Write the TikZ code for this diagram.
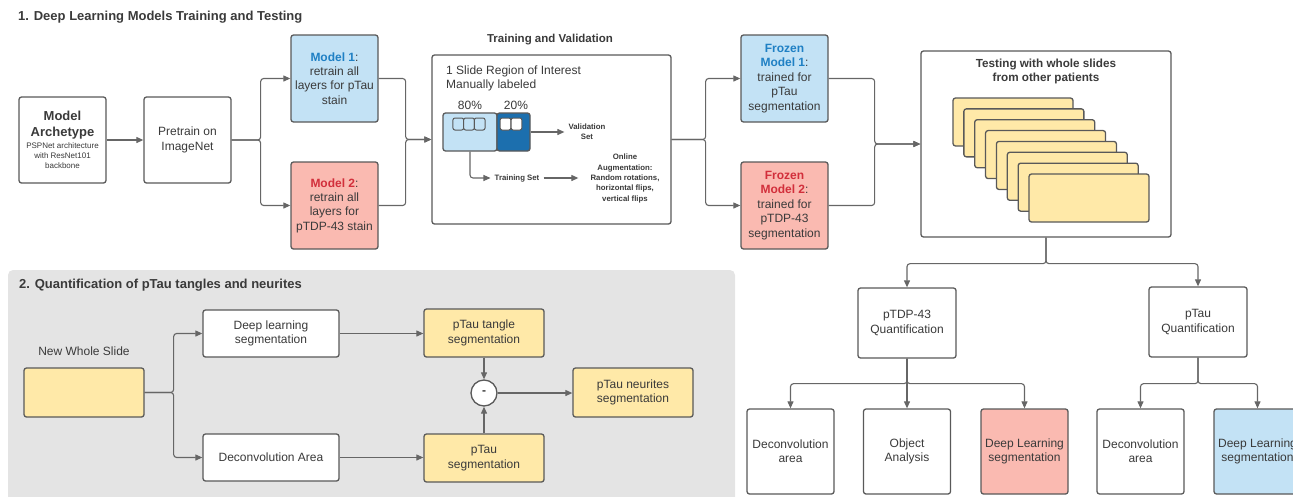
\documentclass[tikz,border=0pt]{standalone}
\usepackage{fontspec}
\setmainfont{Liberation Sans}
\usetikzlibrary{arrows.meta}
\definecolor{linegray}{HTML}{666666}
\definecolor{boxgray}{HTML}{595959}
\definecolor{txtgray}{HTML}{3A3A3A}
\definecolor{lblue}{HTML}{C3E2F5}
\definecolor{dblue}{HTML}{1C6FAE}
\definecolor{lred}{HTML}{FABAB1}
\definecolor{lyellow}{HTML}{FFE9A8}
\definecolor{bluetxt}{HTML}{1F80C4}
\definecolor{redtxt}{HTML}{D22F3B}
\definecolor{panel}{HTML}{E4E4E4}
\newcommand{\archbig}{\fontsize{13}{15.5}\selectfont\bfseries}
\newcommand{\archsmall}{\fontsize{8}{10}\selectfont}
\begin{document}
\begin{tikzpicture}[x=1pt, y=-1pt, line join=round,
  box/.style={draw=boxgray, line width=1.3pt, rounded corners=2.5pt, fill=white, text=txtgray, align=center, inner sep=0pt, font=\fontsize{12}{14.4}\selectfont},
  sq/.style={box, minimum width=87pt, minimum height=87pt},
  wbox/.style={box, minimum width=120pt, minimum height=48pt},
  leaf/.style={box, minimum width=87pt, minimum height=85pt},
  quant/.style={box, minimum width=98pt, minimum height=70pt},
  tile/.style={draw=boxgray, line width=1pt, rounded corners=2pt, minimum width=10.7pt, minimum height=12pt, inner sep=0pt},
  txt/.style={text=txtgray, font=\fontsize{12}{14.4}\selectfont, inner sep=0pt, align=center},
  small/.style={text=txtgray, font=\fontsize{7.8}{10.3}\selectfont\bfseries, align=center, inner ysep=0pt, inner xsep=4pt},
  hd/.style={text=txtgray, font=\fontsize{13}{15}\selectfont\bfseries, anchor=west, inner sep=0pt},
  arr/.style={draw=linegray, line width=1.1pt, rounded corners=3pt, -{Triangle[length=7pt, width=6pt]}}]
\useasboundingbox (0,0) rectangle (1293,496);
\clip (0,0) rectangle (1293,496);
\fill[panel, rounded corners=5pt] (8,270) rectangle (735,510);
\begin{scope}
% 1. training and testing
\node[hd] (t1) at (18,17) {1. Deep Learning Models Training and Testing};
\node[box, minimum width=87pt, minimum height=86pt] (arch) at (62.5,140) {{\archbig Model}\\[1pt]{\archbig Archetype}\\[-2pt]{\archsmall PSPNet architecture}\\[-4.4pt]{\archsmall with ResNet101}\\[-4.4pt]{\archsmall backbone}};
\node[box, minimum width=87pt, minimum height=86pt] (pre) at (187.5,140) {Pretrain on\\ImageNet};
\node[sq, fill=lblue] (m1) at (334.5,78.5) {\textbf{\color{bluetxt}Model 1}:\\retrain all\\layers for pTau\\stain};
\node[sq, fill=lred] (m2) at (334.5,205.5) {\textbf{\color{redtxt}Model 2}:\\retrain all\\layers for\\pTDP-43 stain};
\node[txt, font=\fontsize{11.5}{14}\selectfont\bfseries] (tvt) at (550,40) {Training and Validation};
\node[box, minimum width=239pt, minimum height=169pt] (tv) at (551.5,139.5) {};
\node[txt, anchor=north west, align=left, font=\fontsize{12}{14}\selectfont] (roi) at (446,65.5) {1 Slide Region of Interest\\Manually labeled};
\node[txt] (p80) at (470,105) {80\%};
\node[txt] (p20) at (516,105) {20\%};
\node[box, fill=lblue, minimum width=54pt, minimum height=38pt] (trn) at (470,132) {};
\node[box, fill=dblue, minimum width=33pt, minimum height=38pt] (val) at (513.5,132) {};
\foreach \i in {0,1,2} \node[tile, fill=lblue] (a\i) at (458.3+10.7*\i,124) {};
\foreach \i in {0,1} \node[tile, fill=white] (b\i) at (505.5+11*\i,124) {};
\node[small] (vs) at (587,132) {Validation\\Set};
\node[small] (ts) at (517,178) {Training Set};
\node[small, inner xsep=12pt] (aug) at (625,178.5) {Online\\Augmentation:\\Random rotations,\\horizontal flips,\\vertical flips};
\node[sq, fill=lblue] (f1) at (784.5,78.5) {\textbf{\color{bluetxt}Frozen}\\\textbf{\color{bluetxt}Model 1}:\\trained for\\pTau\\segmentation};
\node[sq, fill=lred] (f2) at (784.5,205.5) {\textbf{\color{redtxt}Frozen}\\\textbf{\color{redtxt}Model 2}:\\trained for\\pTDP-43\\segmentation};
\node[box, minimum width=250pt, minimum height=186pt] (test) at (1046,144) {};
\node[txt, font=\fontsize{11.7}{14}\selectfont\bfseries] (testt) at (1046,71) {Testing with whole slides\\from other patients};
\foreach \i in {0,...,7} \node[wbox, fill=lyellow] (s\i) at (1013+10.86*\i,122+10.86*\i) {};
\node[quant] (pq) at (907,323) {pTDP-43\\Quantification};
\node[quant] (tq) at (1198,322) {pTau\\Quantification};
\node[leaf] (d1) at (790.5,451.5) {Deconvolution\\area};
\node[leaf] (o1) at (907,451.5) {Object\\Analysis};
\node[leaf, fill=lred] (dl1) at (1024.5,451.5) {Deep Learning\\segmentation};
\node[leaf] (d2) at (1140.5,451.5) {Deconvolution\\area};
\node[leaf, fill=lblue] (dl2) at (1257.5,451.5) {Deep Learning\\segmentation};
% 2. quantification
\node[hd] (t2) at (19,285) {2. Quantification of pTau tangles and neurites};
\node[txt] (nwt) at (84,351) {New Whole Slide};
\node[wbox, fill=lyellow, minimum height=49pt] (nws) at (84,392.5) {};
\node[box, minimum width=136pt, minimum height=47pt] (dls) at (271,333.5) {Deep learning\\segmentation};
\node[box, minimum width=136pt, minimum height=47pt] (dca) at (271,457.5) {Deconvolution Area};
\node[wbox, fill=lyellow] (tan) at (484,333) {pTau tangle\\segmentation};
\node[wbox, fill=lyellow] (pts) at (484,458) {pTau\\segmentation};
\node[box, circle, minimum size=26pt, font=\fontsize{12}{14}\selectfont\bfseries] (minus) at (484,393) {-};
\node[wbox, fill=lyellow, minimum height=49pt] (neu) at (633,392.5) {pTau neurites\\segmentation};
%\node[box] () at (,) {};
\end{scope}
\begin{scope}
\draw[arr] (arch.east) -- (pre.west);
\draw[arr] (pre.east) -- ++(29,0) |- (m1.west);
\draw[arr] (pre.east) -- ++(29,0) |- (m2.west);
\draw[arr] (m1.east) -- ++(27,0) |- (tv.west);
\draw[arr] (m2.east) -- ++(27,0) |- (tv.west);
\draw[arr] (val.east) -- (vs.west);
\draw[arr] (trn.south) |- (ts.west);
\draw[arr] (ts.east) -- (ts.east -| aug.west);
\draw[arr] (tv.east) -- ++(34,0) |- (f1.west);
\draw[arr] (tv.east) -- ++(34,0) |- (f2.west);
\draw[arr] (f1.east) -- ++(46,0) |- (test.west);
\draw[arr] (f2.east) -- ++(46,0) |- (test.west);
\draw[arr] (test.south) -- ++(0,26) -| (pq.north);
\draw[arr] (test.south) -- ++(0,26) -| (tq.north);
\draw[arr] (pq.south) -- ++(0,25) -| (d1.north);
\draw[arr] (pq.south) -- (o1.north);
\draw[arr] (pq.south) -- ++(0,25) -| (dl1.north);
\draw[arr] (tq.south) -- ++(0,26) -| (d2.north);
\draw[arr] (tq.south) -- ++(0,26) -| (dl2.north);
\draw[arr] (nws.east) -- ++(29,0) |- (dls.west);
\draw[arr] (nws.east) -- ++(29,0) |- (dca.west);
\draw[arr] (dls.east) -- (dls.east -| tan.west);
\draw[arr] (dca.east) -- (dca.east -| pts.west);
\draw[arr] (tan.south) -- (minus.north);
\draw[arr] (pts.north) -- (minus.south);
\draw[arr] (minus.east) -- (minus.east -| neu.west);
%\draw[arr] () -- ();
\end{scope}
\end{tikzpicture}
\end{document}
